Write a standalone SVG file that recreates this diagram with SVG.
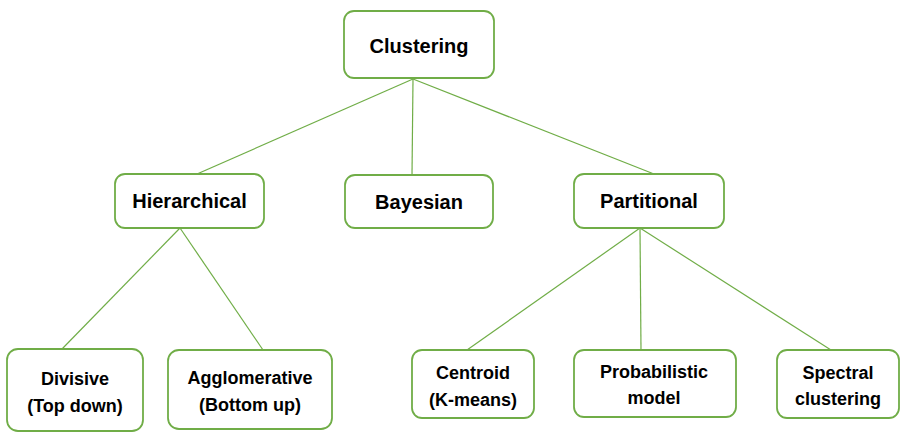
<svg xmlns="http://www.w3.org/2000/svg" width="920" height="444" viewBox="0 0 920 444">
<style>
.box{fill:#fff;stroke:#70ad47;stroke-width:1.8}
.lbl{font-family:"Liberation Sans",Arial,sans-serif;font-weight:bold;fill:#000;text-anchor:middle}
.big{font-size:20px}
.sm{font-size:18px}
.con line{stroke:#70ad47;stroke-width:1.2}
</style>
<rect width="920" height="444" fill="#fff"/>
<g class="con">
<line x1="413" y1="79" x2="197" y2="174"/>
<line x1="413" y1="79" x2="412" y2="175"/>
<line x1="413" y1="79" x2="654" y2="174"/>
<line x1="180" y1="228" x2="62" y2="349"/>
<line x1="180" y1="228" x2="263" y2="350"/>
<line x1="640" y1="228" x2="467" y2="350"/>
<line x1="640" y1="228" x2="641" y2="350"/>
<line x1="640" y1="228" x2="831" y2="350"/>
</g>
<g id="clustering"><rect class="box" x="344" y="11" width="150" height="67" rx="10"/><text class="lbl big" x="419" y="53">Clustering</text></g>
<g id="hierarchical"><rect class="box" x="115" y="174" width="149" height="54" rx="10"/><text class="lbl big" x="189.5" y="208">Hierarchical</text></g>
<g id="bayesian"><rect class="box" x="345" y="175" width="148" height="53" rx="10"/><text class="lbl big" x="419" y="209">Bayesian</text></g>
<g id="partitional"><rect class="box" x="574" y="174" width="150" height="54" rx="10"/><text class="lbl big" x="649" y="208">Partitional</text></g>
<g id="divisive"><rect class="box" x="7" y="349" width="136" height="82" rx="11"/><text class="lbl sm" x="75" y="385">Divisive</text><text class="lbl sm" x="75" y="412">(Top down)</text></g>
<g id="agglomerative"><rect class="box" x="168" y="350" width="164" height="79" rx="11"/><text class="lbl sm" x="250" y="384">Agglomerative</text><text class="lbl sm" x="250" y="411">(Bottom up)</text></g>
<g id="centroid"><rect class="box" x="412" y="350" width="122" height="68" rx="10"/><text class="lbl sm" x="473" y="379">Centroid</text><text class="lbl sm" x="473" y="406">(K-means)</text></g>
<g id="probabilistic"><rect class="box" x="574" y="350" width="162" height="67" rx="10"/><text class="lbl sm" x="654" y="378">Probabilistic</text><text class="lbl sm" x="654" y="404">model</text></g>
<g id="spectral"><rect class="box" x="777" y="350" width="122" height="68" rx="10"/><text class="lbl sm" x="838" y="379">Spectral</text><text class="lbl sm" x="838" y="405">clustering</text></g>
</svg>
